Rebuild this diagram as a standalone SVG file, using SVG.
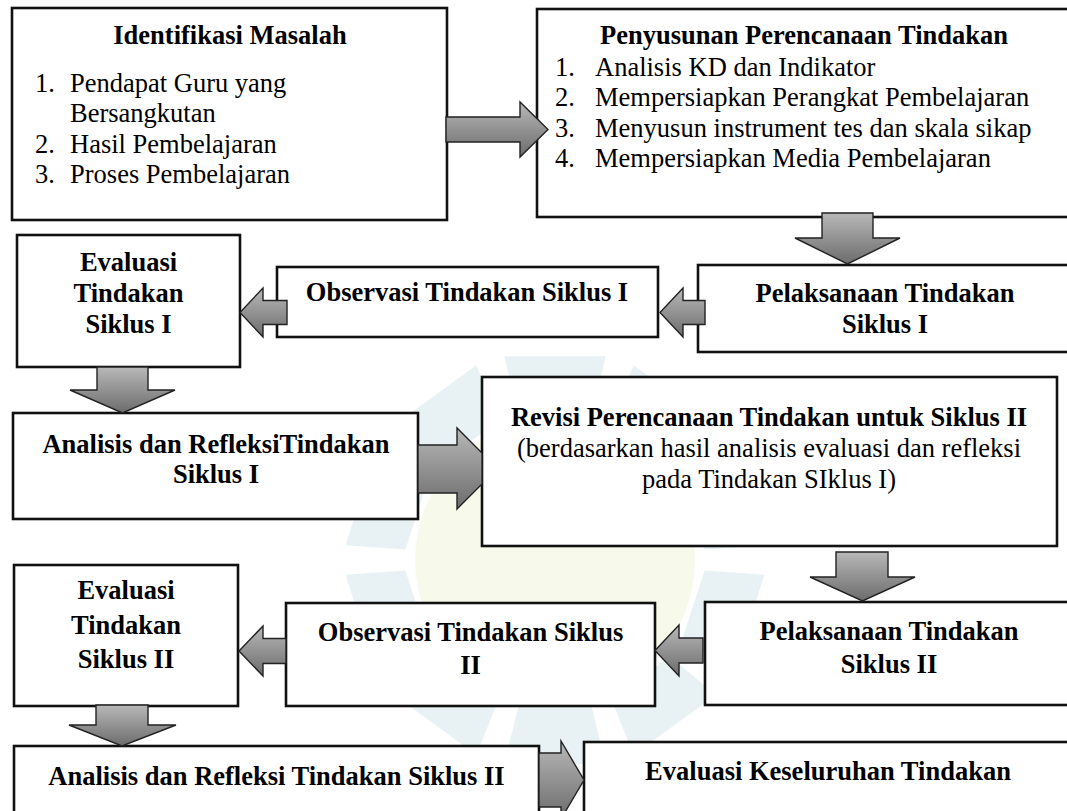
<svg xmlns="http://www.w3.org/2000/svg" width="1067" height="811" viewBox="0 0 1067 811">
<style>
.box{fill:#fff;stroke:#111;stroke-width:2.6}
.arrow{fill:url(#ag);stroke:#222;stroke-width:1.4;stroke-linejoin:miter}
.b{font-family:"Liberation Serif","Times New Roman",serif;font-weight:bold;font-size:26.5px;fill:#000}
.r{font-family:"Liberation Serif","Times New Roman",serif;font-size:26.5px;fill:#000}
.m{text-anchor:middle}
.wm{fill:#dcecef}
</style>
<defs>
<linearGradient id="ag" x1="0" y1="0" x2="0" y2="1">
<stop offset="0" stop-color="#b8b8b8"/>
<stop offset="1" stop-color="#6c6c6c"/>
</linearGradient>
</defs>
<rect width="1067" height="811" fill="#fff"/>
<g id="watermark" opacity="0.65">
<circle cx="555" cy="560" r="140" fill="#f4f8df"/>
<polygon class="wm" points="504.2,356.2 605.8,356.2 591.3,414.5 518.7,414.5"/>
<polygon class="wm" points="633.7,365.3 715.9,425 669.9,463.6 611.2,420.9"/>
<polygon class="wm" points="733.1,448.7 764.5,545.3 704.6,549.5 682.2,480.5"/>
<polygon class="wm" points="764.5,574.7 733.1,671.3 682.2,639.5 704.6,570.5"/>
<polygon class="wm" points="715.9,695 633.7,754.7 611.2,699.1 669.9,656.4"/>
<polygon class="wm" points="605.8,763.8 504.2,763.8 518.7,705.5 591.3,705.5"/>
<polygon class="wm" points="476.3,754.7 394.1,695 440.1,656.4 498.8,699.1"/>
<polygon class="wm" points="376.9,671.3 345.5,574.7 405.4,570.5 427.8,639.5"/>
<polygon class="wm" points="345.5,545.3 376.9,448.7 427.8,480.5 405.4,549.5"/>
<polygon class="wm" points="394.1,425 476.3,365.3 498.8,420.9 440.1,463.6"/>
</g>
<g id="identifikasi">
<rect class="box" x="12" y="8" width="435" height="212"/>
<text class="b m" x="230" y="44">Identifikasi Masalah</text>
<text class="r" x="35" y="92">1.</text><text class="r" x="70" y="92">Pendapat Guru yang</text>
<text class="r" x="70" y="122">Bersangkutan</text>
<text class="r" x="35" y="153">2.</text><text class="r" x="70" y="153">Hasil Pembelajaran</text>
<text class="r" x="35" y="183">3.</text><text class="r" x="70" y="183">Proses Pembelajaran</text>
</g>
<g id="penyusunan">
<rect class="box" x="537" y="9" width="545" height="208"/>
<text class="b" x="600" y="44">Penyusunan Perencanaan Tindakan</text>
<text class="r" x="555" y="76">1.</text><text class="r" x="595" y="76">Analisis KD dan Indikator</text>
<text class="r" x="555" y="106">2.</text><text class="r" x="595" y="106">Mempersiapkan Perangkat Pembelajaran</text>
<text class="r" x="555" y="137">3.</text><text class="r" x="595" y="137">Menyusun instrument tes dan skala sikap</text>
<text class="r" x="555" y="167">4.</text><text class="r" x="595" y="167">Mempersiapkan Media Pembelajaran</text>
</g>
<g id="evaluasi1">
<rect class="box" x="17" y="235" width="223" height="132"/>
<text class="b m" x="128.5" y="271">Evaluasi</text>
<text class="b m" x="128.5" y="302">Tindakan</text>
<text class="b m" x="128.5" y="333">Siklus I</text>
</g>
<g id="observasi1">
<rect class="box" x="277" y="267" width="381" height="70"/>
<text class="b m" x="467" y="301">Observasi Tindakan Siklus I</text>
</g>
<g id="pelaksanaan1">
<rect class="box" x="698" y="265" width="380" height="87"/>
<text class="b m" x="885" y="302">Pelaksanaan Tindakan</text>
<text class="b m" x="885" y="333">Siklus I</text>
</g>
<g id="analisis1">
<rect class="box" x="13" y="413" width="405" height="106"/>
<text class="b m" x="216" y="453">Analisis dan RefleksiTindakan</text>
<text class="b m" x="216" y="483">Siklus I</text>
</g>
<g id="revisi">
<rect class="box" x="482" y="377" width="575" height="169"/>
<text class="b m" x="769" y="426">Revisi Perencanaan Tindakan untuk Siklus II</text>
<text class="r m" x="769" y="457">(berdasarkan hasil analisis evaluasi dan refleksi</text>
<text class="r m" x="769" y="488">pada Tindakan SIklus I)</text>
</g>
<g id="evaluasi2">
<rect class="box" x="14" y="565" width="224" height="141"/>
<text class="b m" x="126" y="599">Evaluasi</text>
<text class="b m" x="126" y="634">Tindakan</text>
<text class="b m" x="126" y="668">Siklus II</text>
</g>
<g id="observasi2">
<rect class="box" x="286" y="603" width="369" height="103"/>
<text class="b m" x="470.5" y="641">Observasi Tindakan Siklus</text>
<text class="b m" x="470.5" y="674">II</text>
</g>
<g id="pelaksanaan2">
<rect class="box" x="705" y="602" width="380" height="103"/>
<text class="b m" x="889" y="640">Pelaksanaan Tindakan</text>
<text class="b m" x="889" y="673">Siklus II</text>
</g>
<g id="analisis2">
<rect class="box" x="14" y="746" width="525" height="90"/>
<text class="b m" x="276.5" y="785">Analisis dan Refleksi Tindakan Siklus II</text>
</g>
<g id="evaluasi-keseluruhan">
<rect class="box" x="584" y="742" width="500" height="90"/>
<text class="b m" x="828" y="780">Evaluasi Keseluruhan Tindakan</text>
</g>
<g id="connectors">
<polygon class="arrow" points="446,117 520,117 520,102 548,129.5 520,157 520,142 446,142"/>
<polygon class="arrow" points="822,213 873,213 873,238 900,238 847.5,264 795,238 822,238"/>
<polygon class="arrow" points="705,300.5 683,300.5 683,288 660,312.5 683,337 683,324.5 705,324.5"/>
<polygon class="arrow" points="287,300.5 263,300.5 263,288 240,312.5 263,337 263,324.5 287,324.5"/>
<polygon class="arrow" points="97,367 148,367 148,390 175,390 122.5,413 70,390 97,390"/>
<polygon class="arrow" points="418,445 457,445 457,428 482,453 482,484 457,509 457,493 418,493"/>
<polygon class="arrow" points="836,552 888,552 888,577 915,577 862.5,601 810,577 836,577"/>
<polygon class="arrow" points="703,638 679,638 679,625 655,650.5 679,676 679,663 703,663"/>
<polygon class="arrow" points="286,638.5 263,638.5 263,626 239,651 263,676 263,663.5 286,663.5"/>
<polygon class="arrow" points="96,705 148,705 148,725 176,725 122,746 69,725 96,725"/>
<polygon class="arrow" points="539,753 561,753 561,741 584,780 561,819 561,807 539,807"/>
</g>
</svg>
